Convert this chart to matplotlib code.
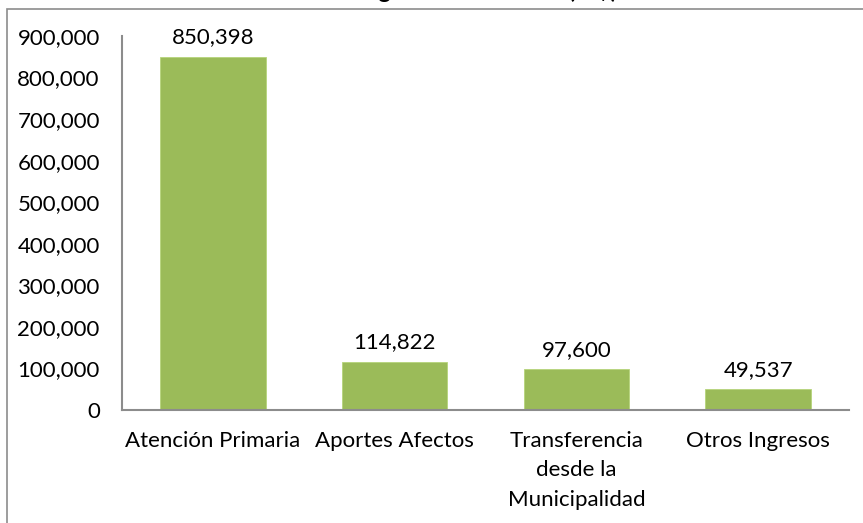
import matplotlib.pyplot as plt
import matplotlib.patches as patches
from matplotlib.ticker import FuncFormatter

categories = ["Atención Primaria", "Aportes Afectos",
              "Transferencia\ndesde la\nMunicipalidad", "Otros Ingresos"]
values = [850398, 114822, 97600, 49537]
title = "Ingresos Percibidos (M$)"

plt.rcParams['font.family'] = ['Lato', 'DejaVu Sans']

W, H = 863, 523
fig = plt.figure(figsize=(W / 100, H / 100), dpi=100)

# outer chart frame (cut off on the right and bottom)
frame = patches.Rectangle((7 / W, -0.2), 1.2, 1.2 - 9 / H, transform=fig.transFigure,
                          fill=False, edgecolor='#8c8c8c', lw=1.2)
fig.patches.append(frame)

# title sits mostly above the picture, as in the original
fig.text(488 / W, 1 + 2 / H, title, ha='center', va='baseline',
         fontsize=17, fontweight='bold', color='black')

ax = fig.add_axes([122 / W, (H - 410) / H, (849 - 122) / W, (410 - 36) / H])
x = range(len(categories))
bars = ax.bar(x, values, width=0.58, color='#9bbb59', edgecolor='#b6d47a', lw=0.6)

ax.set_xlim(-0.5, len(categories) - 0.5)
ax.set_ylim(0, 900000)
ax.set_yticks(range(0, 900001, 100000))
ax.yaxis.set_major_formatter(FuncFormatter(lambda v, p: f"{int(v):,}"))
ax.set_xticks(list(x))
ax.set_xticklabels(categories, linespacing=1.6)
ax.tick_params(axis='both', length=0, labelsize=16, colors='black')
ax.tick_params(axis='y', pad=16)
ax.tick_params(axis='x', pad=15)

for s in ['top', 'right']:
    ax.spines[s].set_visible(False)
for s in ['left', 'bottom']:
    ax.spines[s].set_color('#8c8c8c')
    ax.spines[s].set_linewidth(1.5)

for b, v in zip(bars, values):
    ax.annotate(f"{v:,}", (b.get_x() + b.get_width() / 2, v),
                xytext=(0, 7), textcoords='offset points',
                ha='center', va='bottom', fontsize=16)

fig.savefig("out.png", dpi=100)
